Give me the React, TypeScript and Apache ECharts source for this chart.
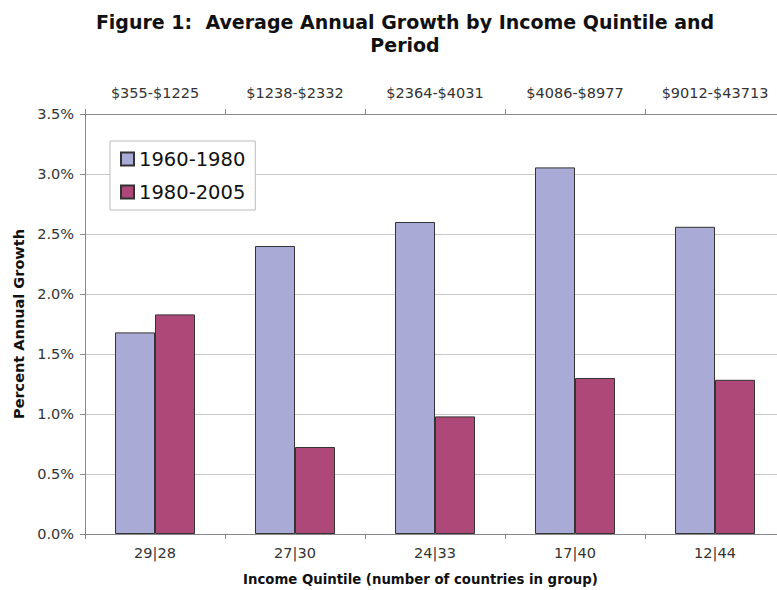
import React, { useEffect, useRef } from "react";
import * as echarts from "echarts";

const categories = ["29|28", "27|30", "24|33", "17|40", "12|44"];
const incomeRanges = ["$355-$1225", "$1238-$2332", "$2364-$4031", "$4086-$8977", "$9012-$43713"];
const series1960 = [1.68, 2.4, 2.6, 3.055, 2.56];
const series1980 = [1.83, 0.725, 0.98, 1.3, 1.285];
const yTicks = { min: 0, max: 3.5, interval: 0.5 };

const FONT = "DejaVu Sans";
const CHART_W = 785;

export default function App() {
  const ref = useRef<HTMLDivElement>(null);
  useEffect(() => {
    if (!ref.current) return;
    const chart = echarts.init(ref.current, null, { renderer: "svg" });
    chart.setOption({
      animation: false,
      backgroundColor: "#ffffff",
      title: {
        text: "Figure 1:  Average Annual Growth by Income Quintile and\nPeriod",
        left: 400,
        top: 5,
        textAlign: "center",
        textStyle: { fontFamily: FONT, fontSize: 19, fontWeight: "bold", color: "#111", lineHeight: 23 },
      },
      legend: {
        orient: "vertical",
        left: 110,
        top: 141,
        padding: [8, 10, 8, 10],
        itemGap: 13,
        itemWidth: 13,
        itemHeight: 13,
        backgroundColor: "#ffffff",
        borderColor: "#bbbbbb",
        borderWidth: 1,
        borderRadius: 0,
        icon: "rect",
        textStyle: { fontFamily: FONT, fontSize: 19.5, color: "#111" },
        data: ["1960-1980", "1980-2005"],
      },
      grid: { left: 85, top: 114, bottom: 56, right: 0, containLabel: false },
      xAxis: [
        {
          type: "category",
          data: categories,
          position: "bottom",
          axisLine: { lineStyle: { color: "#888", width: 1 } },
          axisTick: { show: true, length: 5, lineStyle: { color: "#888" } },
          axisLabel: { fontFamily: FONT, fontSize: 14.5, color: "#333", margin: 11 },
          splitLine: { show: false },
        },
        {
          type: "category",
          data: incomeRanges,
          position: "top",
          axisLine: { lineStyle: { color: "#888", width: 1 } },
          axisTick: { show: true, length: 5, lineStyle: { color: "#888" } },
          axisLabel: { fontFamily: FONT, fontSize: 14.5, color: "#333", margin: 14 },
        },
      ],
      yAxis: {
        type: "value",
        min: yTicks.min,
        max: yTicks.max,
        interval: yTicks.interval,
        name: "Percent Annual Growth",
        nameLocation: "middle",
        nameGap: 51,
        nameTextStyle: { fontFamily: FONT, fontSize: 14.5, fontWeight: "bold", color: "#111" },
        axisLine: { show: true, lineStyle: { color: "#888", width: 1 } },
        axisTick: { show: true, length: 5, lineStyle: { color: "#888" } },
        axisLabel: {
          fontFamily: FONT,
          fontSize: 14.5,
          color: "#333",
          margin: 11,
          formatter: (v: number) => v.toFixed(1) + "%",
        },
        splitLine: { show: true, lineStyle: { color: "#c8c8c8", width: 1 } },
      },
      graphic: [
        {
          type: "text",
          left: 243,
          top: 573,
          style: {
            text: "Income Quintile (number of countries in group)",
            fontFamily: FONT,
            fontSize: 13.3,
            fontWeight: "bold",
            fill: "#111",
          },
        },
      ],
      series: [
        {
          name: "1960-1980",
          type: "bar",
          data: series1960,
          barWidth: 40,
          barGap: "0%",
          itemStyle: { color: "#aaaad6", borderColor: "#333", borderWidth: 1 },
        },
        {
          name: "1980-2005",
          type: "bar",
          data: series1980,
          barWidth: 40,
          barGap: "0%",
          itemStyle: { color: "#ae4878", borderColor: "#333", borderWidth: 1 },
        },
      ],
    });
    return () => chart.dispose();
  }, []);
  return (
    <div style={{ position: "fixed", left: 0, top: 0, width: 777, height: 590, overflow: "hidden" }}>
      <div ref={ref} style={{ width: CHART_W, height: 590 }} />
    </div>
  );
}
